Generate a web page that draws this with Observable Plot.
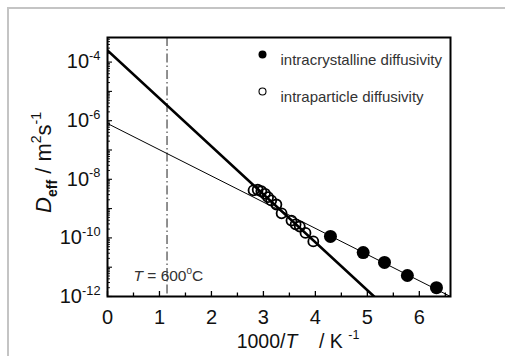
<!DOCTYPE html>
<html><head><meta charset="utf-8">
<script src="https://cdn.jsdelivr.net/npm/d3@7"></script>
<script src="https://cdn.jsdelivr.net/npm/@observablehq/plot@0.6"></script>
<style>
html,body{margin:0;padding:0;background:#fff;}
#wrap{position:relative;width:505px;height:356px;overflow:hidden;}
#border{position:absolute;left:7px;top:7px;width:600px;height:400px;border-left:2px solid #c4c4c4;border-top:2px solid #c4c4c4;}
#wrap svg{position:absolute;left:0;top:0;}
</style></head><body><div id="wrap"><div id="border"></div></div>
<script>
// ---- data ----
const crystX = [4.29, 4.92, 5.33, 5.77, 6.33];
const crystD = [1.12e-10, 3.16e-11, 1.45e-11, 5.2e-12, 2.0e-12];

const partX = [2.81, 2.89, 2.96, 3.03, 3.09, 3.15, 3.25, 3.35, 3.54, 3.62, 3.70, 3.81, 3.96];
const partD = [4.2e-9, 4.4e-9, 3.9e-9, 3.2e-9, 2.45e-9, 1.9e-9, 1.38e-9, 6.9e-10, 3.9e-10, 2.9e-10, 2.45e-10, 1.48e-10, 7.6e-11];

const thickX = [0, 5.13];
const thickD = [2.5e-4, 1e-12];
const thinX = [0, 6.6];
const thinD = [8e-7, 1e-12];

const tempLineX = [1000 / 873];   // T = 600 °C

const xTickMajor = [0, 1, 2, 3, 4, 5, 6];
const xTickMinor = [0.5, 1.5, 2.5, 3.5, 4.5, 5.5, 6.5];
const yLabelTicks = [1e-12, 1e-10, 1e-8, 1e-6, 1e-4];
const yDecades = [-12, -11, -10, -9, -8, -7, -6, -5, -4];
const yMinorFactors = [2, 3, 4, 5, 6, 7, 8, 9];

const legendLabels = ["intracrystalline diffusivity", "intraparticle diffusivity"];
const xTitle = "1000/*T*    / K ^{-1}";
const yTitle = "*D*_{eff} / m^{2}s^{-1}";
const annotation = "*T* = 600^{0}C";

// ---- layout ----
const W = 505, H = 356;
const mL = 107, mR = 55, mT = 37, mB = 60;
const frameW = W - mL - mR, frameH = H - mT - mB;
const xDomain = [0, 6.6];
const yDomain = [1e-12, 6.9e-4];

const crystal = crystX.map((x, i) => ({x, y: crystD[i]}));
const particle = partX.map((x, i) => ({x, y: partD[i]}));
const thick = thickX.map((x, i) => ({x, y: thickD[i]}));
const thin = thinX.map((x, i) => ({x, y: thinD[i]}));
const yMajor = yDecades.map(e => Math.pow(10, e));
const yMinor = [];
yDecades.forEach(e => yMinorFactors.forEach(k => { const v = k * Math.pow(10, e); if (v <= yDomain[1]) yMinor.push(v); }));

const font = "'Liberation Sans', Arial, Helvetica, sans-serif";

const legendMarks = [];
legendLabels.forEach((lab, i) => {
  const dy = 17 + 37 * i;
  legendMarks.push(Plot.dot([lab], {frameAnchor: "top-left", dx: 155, dy, r: i === 0 ? 4 : 3.5,
    fill: i === 0 ? "#000" : "none", stroke: "#000", strokeWidth: i === 0 ? 0 : 1.1}));
  legendMarks.push(Plot.text([lab], {frameAnchor: "top-left", dx: 173, dy, text: d => d,
    textAnchor: "start", fontSize: 15, fill: "#333"}));
});

const plot = Plot.plot({
  width: W, height: H,
  marginLeft: mL, marginRight: mR, marginTop: mT, marginBottom: mB,
  style: {fontFamily: font, background: "transparent", color: "#111"},
  x: {domain: xDomain},
  y: {type: "log", domain: yDomain},
  marks: [
    Plot.ruleX(tempLineX, {x: d => d, stroke: "#222", strokeWidth: 1, strokeDasharray: "9,3,1.5,3"}),
    Plot.line(thin, {x: "x", y: "y", stroke: "#000", strokeWidth: 1, clip: true}),
    Plot.line(thick, {x: "x", y: "y", stroke: "#000", strokeWidth: 2.6, clip: true}),
    Plot.dot(particle, {x: "x", y: "y", r: 5, fill: "none", stroke: "#000", strokeWidth: 1.8}),
    Plot.dot(crystal, {x: "x", y: "y", r: 6.5, fill: "#000", stroke: "none"}),
    // inward ticks
    Plot.ruleX(xTickMajor, {x: d => d, insetTop: frameH - 5, stroke: "#000", strokeWidth: 1.3}),
    Plot.ruleX(xTickMinor, {x: d => d, insetTop: frameH - 3.5, stroke: "#000", strokeWidth: 1.3}),
    Plot.ruleY(yMajor, {y: d => d, insetRight: frameW - 5, stroke: "#000", strokeWidth: 1.1}),
    Plot.ruleY(yMinor, {y: d => d, insetRight: frameW - 3, stroke: "#000", strokeWidth: 0.9}),
    Plot.frame({stroke: "#000", strokeWidth: 2}),
    Plot.axisX({ticks: xTickMajor, tickSize: 0, tickPadding: 13, fontSize: 20, label: null, tickFormat: d => String(d)}),
    Plot.axisY({ticks: yLabelTicks, tickSize: 0, tickPadding: 7, fontSize: 20, label: null,
      tickFormat: d => `10^{-${Math.round(-Math.log10(d))}}`}),
    Plot.text([xTitle], {frameAnchor: "bottom", dx: 19, dy: 51, lineAnchor: "bottom", fontSize: 19.5, text: d => d}),
    Plot.text([yTitle], {frameAnchor: "left", dx: -57, dy: 46, rotate: -90, textAnchor: "start", lineAnchor: "bottom", fontSize: 22, text: d => d}),
    Plot.text([annotation], {frameAnchor: "bottom-left", dx: 26, dy: -16, textAnchor: "start", lineAnchor: "bottom", fontSize: 15.5, fill: "#333", text: d => d}),
    ...legendMarks
  ]
});

document.getElementById("wrap").append(plot);

// rich text: *italic*, ^{super}, _{sub}
function rich(el) {
  const s = el.textContent;
  if (!/[\^_*]/.test(s)) return;
  const base = parseFloat(getComputedStyle(el).fontSize);
  el.textContent = "";
  el.setAttributeNS("http://www.w3.org/XML/1998/namespace", "xml:space", "preserve");
  el.style.whiteSpace = "pre";
  const re = /\^\{([^}]*)\}|_\{([^}]*)\}|\*([^*]*)\*|([^\^_*]+)/g;
  let m, cur = 0;
  while ((m = re.exec(s))) {
    const t = document.createElementNS("http://www.w3.org/2000/svg", "tspan");
    let shift = 0, txt;
    if (m[1] != null) { txt = m[1]; shift = -0.42 * base; t.setAttribute("font-size", 0.64 * base); }
    else if (m[2] != null) { txt = m[2]; shift = 0.28 * base; t.setAttribute("font-size", 0.64 * base); t.setAttribute("font-weight", "bold"); }
    else if (m[3] != null) { txt = m[3]; t.setAttribute("font-style", "italic"); }
    else txt = m[4];
    if (shift !== cur) { t.setAttribute("dy", shift - cur); cur = shift; }
    t.textContent = txt;
    el.appendChild(t);
  }
}
plot.querySelectorAll("text").forEach(rich);
</script>
</body></html>
